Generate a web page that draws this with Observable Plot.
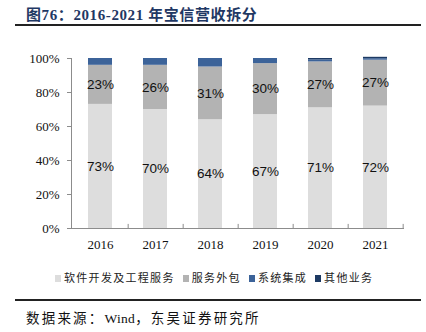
<!DOCTYPE html>
<html><head><meta charset="utf-8">
<script src="https://cdn.jsdelivr.net/npm/d3@7"></script>
<script src="https://cdn.jsdelivr.net/npm/@observablehq/plot@0.6"></script>
<style>
body{margin:0;width:426px;height:332px;background:#fff;overflow:hidden;font-family:"Liberation Serif","Noto Sans CJK SC",serif;}
#title{position:absolute;left:26px;top:3px;font-size:15px;font-weight:bold;color:#1f3864;letter-spacing:0.6px;white-space:nowrap;}
#rule1{position:absolute;left:15px;top:24px;width:406px;height:2px;background:#222;}
#chart{position:absolute;left:0;top:30px;}
#legend{position:absolute;left:55px;top:269px;font-size:11px;color:#222;white-space:nowrap;letter-spacing:1.3px;}
#legend span.item{display:inline-block;margin-right:8px;}
#legend span.sw{display:inline-block;width:6px;height:7px;margin-right:3px;vertical-align:-0px;}
#rule2{position:absolute;left:15px;top:299px;width:406px;height:2px;background:#222;}
#source{position:absolute;left:26px;top:307px;font-size:13.5px;color:#111;letter-spacing:2.2px;white-space:nowrap;}
#source .lat{letter-spacing:0.3px;}
</style></head>
<body>
<div id="title">图76：2016-2021 年宝信营收拆分</div>
<div id="rule1"></div>
<div id="chart"></div>
<div id="legend"></div>
<div id="rule2"></div>
<div id="source">数据来源：<span class="lat">Wind</span>，东吴证券研究所</div>
<script>
const years = ["2016","2017","2018","2019","2020","2021"];
const seriesNames = ["软件开发及工程服务","服务外包","系统集成","其他业务"];
const software = [73, 70, 64, 67, 71, 72];
const outsourcing = [23, 26, 31, 30, 27, 27];
const integration = [4, 4, 5, 3, 1.2, 0.9];
const other = [0, 0, 0, 0, 0.8, 0.8];
const colors = ["#dddddd","#b3b3b3","#3c6399","#1d3a63"];
const yTicks = [0, 20, 40, 60, 80, 100];

const seriesValues = [software, outsourcing, integration, other];
const data = [];
years.forEach((yr, i) => {
  seriesNames.forEach((s, k) => {
    data.push({year: yr, series: s, value: seriesValues[k][i]});
  });
});
const labelData = data.filter(d => d.series === seriesNames[0] || d.series === seriesNames[1]);

const W = 426, H = 232, ML = 71, MR = 23, MT = 28, MB = 34;
const step = (W - ML - MR) / years.length;

const chart = Plot.plot({
  width: W, height: H,
  marginLeft: ML, marginRight: MR, marginTop: MT, marginBottom: MB,
  x: {type: "band", domain: years, paddingInner: 0.57, paddingOuter: 0.285, align: 0.5},
  y: {domain: [0, 100]},
  color: {domain: seriesNames, range: colors},
  style: {fontFamily: "Liberation Serif, serif", fontSize: "13px", color: "#111"},
  marks: [
    Plot.barY(data, Plot.stackY({x: "year", y: "value", fill: "series", order: seriesNames})),
    Plot.text(labelData, Plot.stackY({x: "year", y: "value", z: "series", order: seriesNames,
      text: d => d.value + "%", fontFamily: "Liberation Sans, Arial, sans-serif", fontSize: 13.5, fill: "#111"})),
    Plot.frame({anchor: "left", stroke: "#8c8c8c"}),
    Plot.frame({anchor: "bottom", stroke: "#8c8c8c"}),
    Plot.ruleX(years, {x: d => d, dx: step / 2, y1: 0, y2: 2.4, stroke: "#8c8c8c"}),
    Plot.axisY({ticks: yTicks, tickFormat: d => d + "%", tickSize: 4, tickPadding: 8, stroke: "#8c8c8c", label: null, fontSize: 13}),
    Plot.axisX({tickSize: 0, tickPadding: 11, label: null, fontSize: 13})
  ]
});
document.getElementById("chart").appendChild(chart);

const legend = document.getElementById("legend");
seriesNames.forEach((s, k) => {
  const item = document.createElement("span");
  item.className = "item";
  const sw = document.createElement("span");
  sw.className = "sw";
  sw.style.background = colors[k];
  item.appendChild(sw);
  item.appendChild(document.createTextNode(s));
  legend.appendChild(item);
});
</script>
</body></html>
